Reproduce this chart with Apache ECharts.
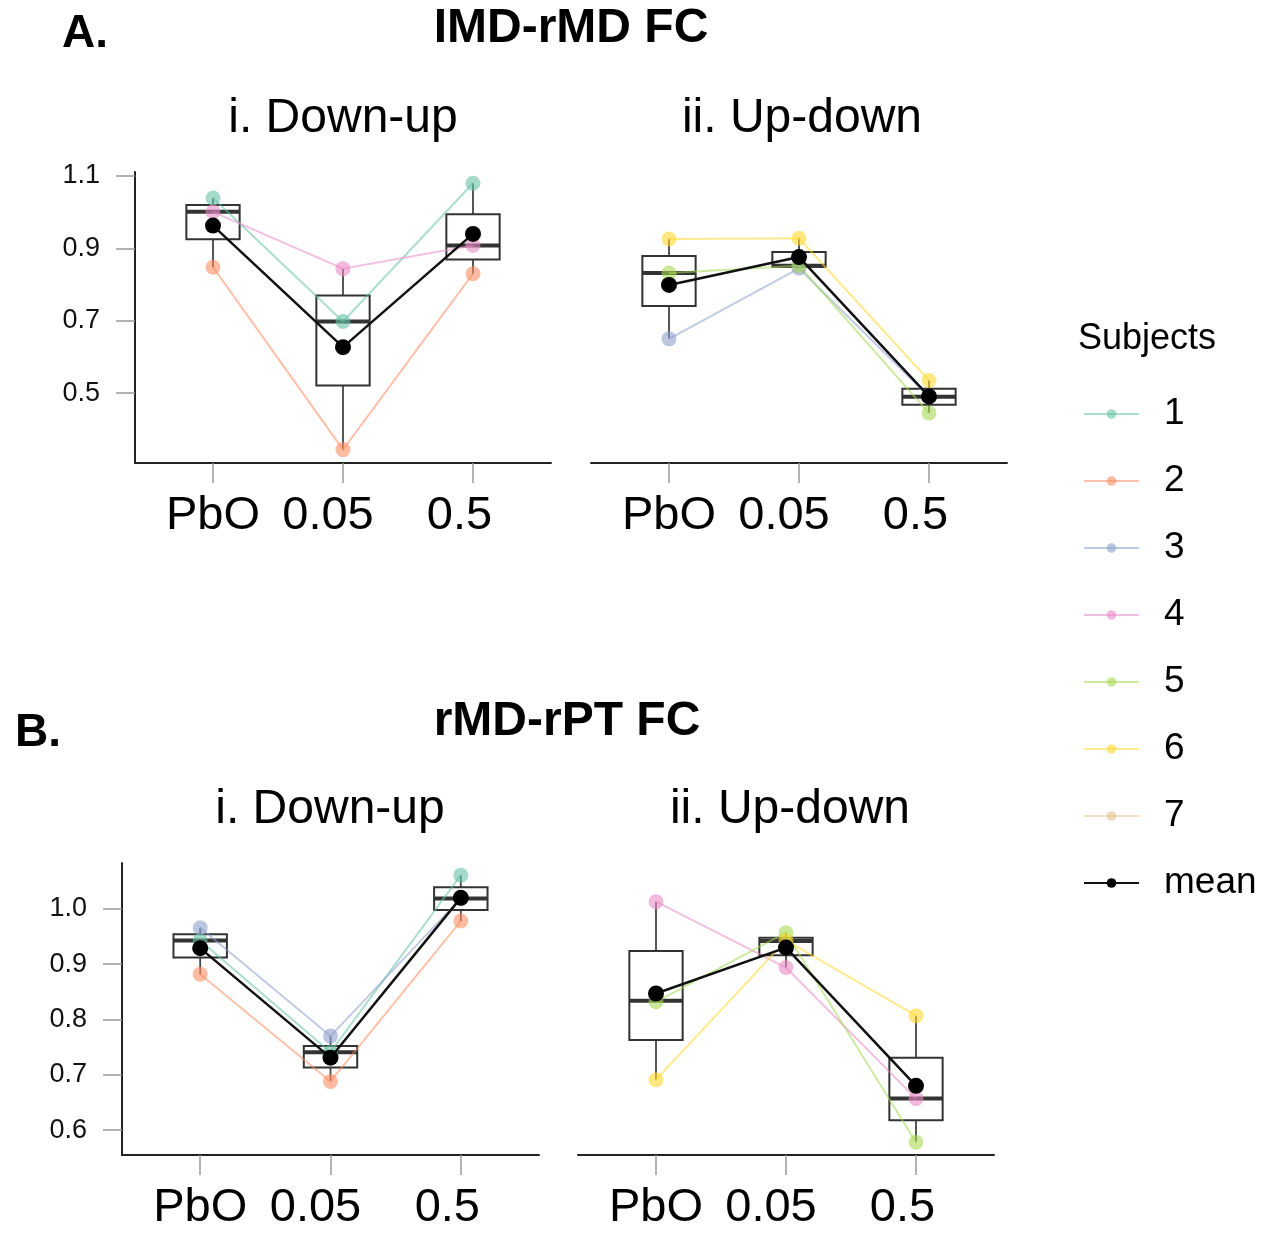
<!DOCTYPE html>
<html>
<head>
<meta charset="utf-8">
<script src="https://cdn.jsdelivr.net/npm/echarts@6/dist/echarts.min.js"></script>
<style>
  html, body { margin: 0; padding: 0; background: #fff; }
  #chart { width: 1265px; height: 1234px; }
</style>
</head>
<body>
<div id="chart"></div>
<script>
// dose levels on the x axis (drawn at positions 1, 2, 3)
const doses = ['PbO', '0.05', '0.5'];
const xPos = [1, 2, 3];
const subjects = ['1', '2', '3', '4', '5', '6', '7'];
const subjectColors = ['#66C2A5', '#FC8D62', '#8DA0CB', '#E78AC3', '#A6D854', '#FFD92F', '#E5C494'];

// A. IMD-rMD FC, i. Down-up
const aDownS1 = [1.039, 0.698, 1.080];
const aDownS2 = [0.848, 0.344, 0.830];
const aDownS4 = [1.001, 0.844, 0.908];
const aDownMean = [0.963, 0.627, 0.940];
const aDownBox = [  // min, q1, median, q3, max
  [0.848, 0.925, 1.001, 1.020, 1.039],
  [0.344, 0.521, 0.698, 0.770, 0.844],
  [0.830, 0.869, 0.908, 0.994, 1.080]
];

// A. IMD-rMD FC, ii. Up-down
const aUpS3 = [0.650, 0.845, 0.490];
const aUpS5 = [0.832, 0.852, 0.445];
const aUpS6 = [0.926, 0.928, 0.535];
const aUpMean = [0.799, 0.876, 0.491];
const aUpBox = [
  [0.650, 0.741, 0.832, 0.879, 0.926],
  [0.845, 0.849, 0.852, 0.890, 0.928],
  [0.445, 0.468, 0.490, 0.512, 0.535]
];

// B. rMD-rPT FC, i. Down-up
const bDownS1 = [0.943, 0.741, 1.061];
const bDownS2 = [0.882, 0.688, 0.978];
const bDownS3 = [0.966, 0.770, 1.019];
const bDownMean = [0.929, 0.731, 1.020];
const bDownBox = [
  [0.882, 0.912, 0.943, 0.954, 0.966],
  [0.688, 0.713, 0.741, 0.752, 0.770],
  [0.978, 0.998, 1.019, 1.039, 1.061]
];

// B. rMD-rPT FC, ii. Up-down
const bUpS4 = [1.013, 0.894, 0.657];
const bUpS5 = [0.832, 0.957, 0.578];
const bUpS6 = [0.691, 0.943, 0.807];
const bUpMean = [0.847, 0.930, 0.680];
const bUpBox = [
  [0.691, 0.763, 0.834, 0.924, 1.013],
  [0.894, 0.916, 0.942, 0.948, 0.957],
  [0.578, 0.618, 0.657, 0.731, 0.807]
];

// y tick labels
const aTicks = [0.5, 0.7, 0.9, 1.1];
const bTicks = [0.6, 0.7, 0.8, 0.9, 1.0];

const FONT = 'Liberation Sans, Arial, Helvetica, sans-serif';

const chart = echarts.init(document.getElementById('chart'));

// panels: grid position + y range
const panels = [
  { left: 135, top: 172, width: 416, height: 291, ymin: 0.307, ymax: 1.111, ticks: aTicks, showY: true },
  { left: 591, top: 172, width: 416, height: 291, ymin: 0.307, ymax: 1.111, ticks: aTicks, showY: false },
  { left: 122, top: 863, width: 417, height: 292, ymin: 0.555, ymax: 1.083, ticks: bTicks, showY: true },
  { left: 578, top: 863, width: 416, height: 292, ymin: 0.555, ymax: 1.083, ticks: bTicks, showY: false }
];

const grids = panels.map(p => ({ left: p.left, top: p.top, width: p.width, height: p.height }));

const xAxes = panels.map((p, i) => ({
  type: 'value', gridIndex: i, min: 0.4, max: 3.6,
  axisLine: { show: true, lineStyle: { color: '#222', width: 2 } },
  axisTick: { show: true, customValues: xPos, length: 20, lineStyle: { color: '#999', width: 1.5 } },
  splitLine: { show: false },
  axisLabel: {
    customValues: xPos, margin: 30,
    formatter: v => {
      const k = Math.round(v) - 1;
      return '{' + ['p', 'q', 'r'][k] + '|' + doses[k] + '}';
    },
    rich: {
      p: { fontSize: 47, fontFamily: FONT, color: '#000' },
      q: { fontSize: 47, fontFamily: FONT, color: '#000', padding: [0, 30, 0, 0] },
      r: { fontSize: 47, fontFamily: FONT, color: '#000', padding: [0, 27, 0, 0] }
    }
  }
}));

const yAxes = panels.map((p, i) => ({
  type: 'value', gridIndex: i, min: p.ymin, max: p.ymax, show: p.showY,
  axisLine: { show: true, lineStyle: { color: '#222', width: 2 } },
  axisTick: { show: true, customValues: p.ticks, length: 19, lineStyle: { color: '#999', width: 1.5 } },
  splitLine: { show: false },
  axisLabel: {
    customValues: p.ticks, margin: 35, fontSize: 27, fontFamily: FONT, color: '#111',
    formatter: v => v.toFixed(1)
  }
}));

function pts(vals) {
  return vals.map((v, i) => [xPos[i], v]);
}

function boxSeries(box, idx) {
  return {
    type: 'custom', xAxisIndex: idx, yAxisIndex: idx, z: 2, silent: true,
    data: box.map((b, i) => [xPos[i]].concat(b)),
    renderItem: (params, api) => {
      const x = api.value(0);
      const half = api.size([0.41, 0])[0] / 2;
      const pMin = api.coord([x, api.value(1)]);
      const pQ1 = api.coord([x, api.value(2)]);
      const pMed = api.coord([x, api.value(3)]);
      const pQ3 = api.coord([x, api.value(4)]);
      const pMax = api.coord([x, api.value(5)]);
      const stroke = { stroke: '#444', lineWidth: 1.8 };
      return {
        type: 'group',
        children: [
          { type: 'line', shape: { x1: pMin[0], y1: pMin[1], x2: pQ1[0], y2: pQ1[1] }, style: stroke },
          { type: 'line', shape: { x1: pQ3[0], y1: pQ3[1], x2: pMax[0], y2: pMax[1] }, style: stroke },
          { type: 'rect', shape: { x: pQ3[0] - half, y: pQ3[1], width: half * 2, height: pQ1[1] - pQ3[1] },
            style: { fill: 'none', stroke: '#333', lineWidth: 2 } },
          { type: 'line', shape: { x1: pMed[0] - half, y1: pMed[1], x2: pMed[0] + half, y2: pMed[1] },
            style: { stroke: '#333', lineWidth: 4 } }
        ]
      };
    }
  };
}

function subjectSeries(name, vals, idx) {
  const c = subjectColors[subjects.indexOf(name)];
  return {
    name: name, type: 'line', xAxisIndex: idx, yAxisIndex: idx, z: 3,
    data: pts(vals), symbol: 'circle', symbolSize: 15,
    itemStyle: { color: c, opacity: 0.6 },
    lineStyle: { color: c, width: 2, opacity: 0.55 }
  };
}

function meanSeries(vals, idx) {
  return {
    name: 'mean', type: 'line', xAxisIndex: idx, yAxisIndex: idx, z: 5,
    data: pts(vals), symbol: 'circle', symbolSize: 16,
    itemStyle: { color: '#000' },
    lineStyle: { color: '#111', width: 2.5 }
  };
}

const series = [
  boxSeries(aDownBox, 0),
  subjectSeries('1', aDownS1, 0),
  subjectSeries('2', aDownS2, 0),
  subjectSeries('4', aDownS4, 0),
  meanSeries(aDownMean, 0),

  boxSeries(aUpBox, 1),
  subjectSeries('3', aUpS3, 1),
  subjectSeries('5', aUpS5, 1),
  subjectSeries('6', aUpS6, 1),
  meanSeries(aUpMean, 1),

  boxSeries(bDownBox, 2),
  subjectSeries('1', bDownS1, 2),
  subjectSeries('2', bDownS2, 2),
  subjectSeries('3', bDownS3, 2),
  meanSeries(bDownMean, 2),

  boxSeries(bUpBox, 3),
  subjectSeries('4', bUpS4, 3),
  subjectSeries('5', bUpS5, 3),
  subjectSeries('6', bUpS6, 3),
  meanSeries(bUpMean, 3),

  // subject 7 only appears in the legend
  subjectSeries('7', [], 0)
];

function head(text, x, y, size, bold, align) {
  return {
    text: text, left: x, top: y, padding: 0, textAlign: align || 'left',
    textStyle: { fontSize: size, fontWeight: bold ? 'bold' : 'normal', fontFamily: FONT, color: '#000' }
  };
}

chart.setOption({
  animation: false,
  backgroundColor: '#fff',
  title: [
    head('A.', 62, 11, 46, true),
    head('IMD-rMD FC', 571, 5, 48, true, 'center'),
    head('i. Down-up', 343, 95, 48, false, 'center'),
    head('ii. Up-down', 802, 95, 48, false, 'center'),
    head('B.', 15, 710, 46, true),
    head('rMD-rPT FC', 567, 698, 48, true, 'center'),
    head('i. Down-up', 330, 786, 48, false, 'center'),
    head('ii. Up-down', 790, 786, 48, false, 'center'),
    head('Subjects', 1078, 321, 36, false)
  ],
  legend: {
    orient: 'vertical', left: 1078, top: 389,
    itemWidth: 55, itemHeight: 12, itemGap: 27,
    data: subjects.concat(['mean']),
    textStyle: { fontSize: 37, fontFamily: FONT, color: '#000', lineHeight: 40, padding: [0, 0, 0, 20] },
    selectedMode: false
  },
  grid: grids,
  xAxis: xAxes,
  yAxis: yAxes,
  series: series
});
</script>
</body>
</html>
